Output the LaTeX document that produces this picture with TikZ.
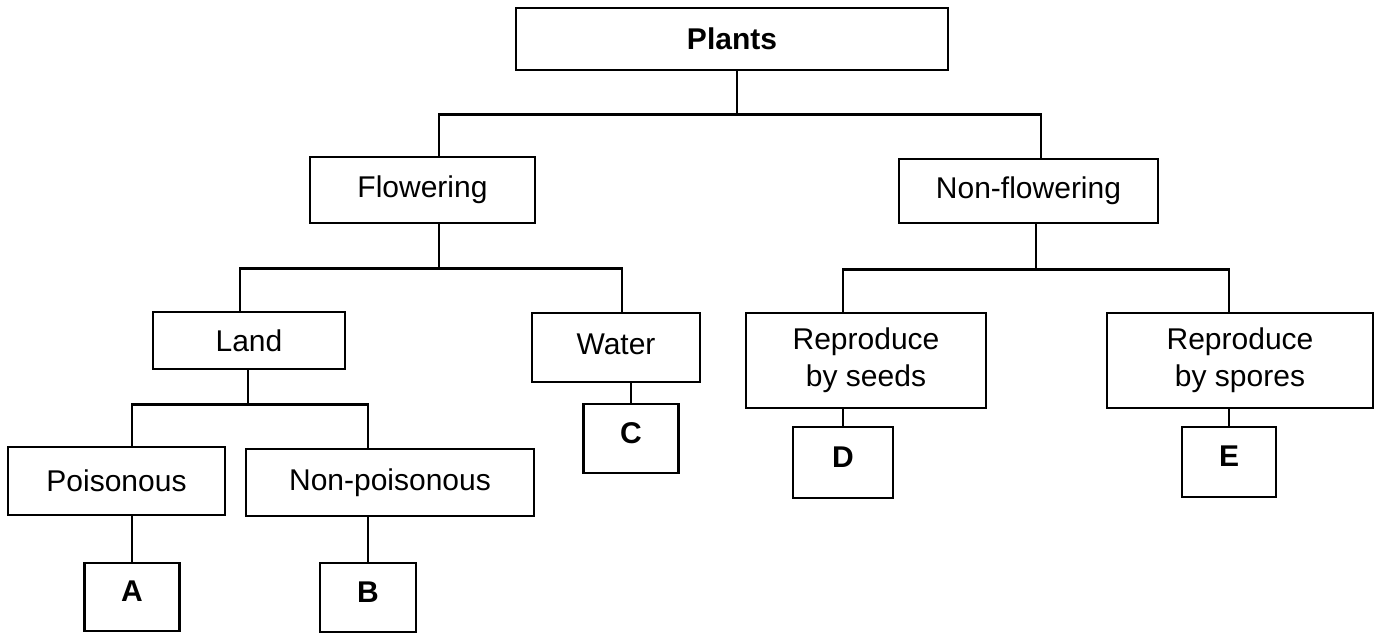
\documentclass[tikz,border=0pt]{standalone}
\usepackage{fontspec}
\setmainfont{Liberation Sans}
\usetikzlibrary{calc}
\tikzset{
  box/.style={draw=black, line width=1.4pt, rectangle, inner sep=0pt, align=center,
    font=\fontsize{15pt}{18.5pt}\selectfont},
  letterbox/.style={box, font=\fontsize{15pt}{18.5pt}\selectfont\bfseries,
    text height=10.7pt, text depth=6pt},
  conn/.style={draw=black, line width=1.4pt}
}
\begin{document}
\begin{tikzpicture}[x=0.5pt, y=-0.5pt]
\useasboundingbox[fill=white] (0,0) rectangle (1380,634);
% level 0
\node[box, minimum width=216pt, minimum height=31pt, font=\fontsize{15pt}{18.5pt}\selectfont\bfseries] (plants) at (732,39) {Plants};
% level 1
\node[box, minimum width=112.5pt, minimum height=33pt] (flow) at (422.5,190) {Flowering};
\node[box, minimum width=129.5pt, minimum height=32pt] (nonflow) at (1028.5,191) {Non-flowering};
% level 2
\node[box, minimum width=96pt, minimum height=28.5pt] (land) at (249,340.5) {Land};
\node[box, minimum width=84pt, minimum height=34.5pt, text height=10.7pt, text depth=4pt] (water) at (616,347.5) {Water};
\node[box, minimum width=120pt, minimum height=47.5pt] (seeds) at (866,360.5) {Reproduce\\by seeds};
\node[box, minimum width=133pt, minimum height=47.5pt] (spores) at (1240,360.5) {Reproduce\\by spores};
% level 3
\node[box, minimum width=108.5pt, minimum height=34pt] (pois) at (116.5,481) {Poisonous};
\node[box, minimum width=144pt, minimum height=33.5pt] (nonpois) at (390,482.5) {Non-poisonous};
\node[letterbox, minimum width=47.5pt, minimum height=34.5pt] (C) at (631,438.5) {C};
\node[letterbox, minimum width=50pt, minimum height=35.5pt] (D) at (843,462.5) {D};
\node[letterbox, minimum width=47pt, minimum height=35pt] (E) at (1229,462) {E};
% level 4
\node[letterbox, minimum width=47.5pt, minimum height=34pt] (A) at (132,597) {A};
\node[letterbox, minimum width=48pt, minimum height=34.5pt] (B) at (368,597.5) {B};
% connectors
\draw[conn] ([xshift=2.5pt]plants.south) -- ++(0,43) -| ([xshift=8.25pt]flow.north);
\draw[conn] ([xshift=2.5pt]plants.south) ++(0,43) -| ([xshift=6.25pt]nonflow.north);
\draw[conn] ([xshift=8.25pt]flow.south) -- ++(0,44) -| ([xshift=-4.5pt]land.north);
\draw[conn] ([xshift=8.25pt]flow.south) ++(0,44) -| ([xshift=3pt]water.north);
\draw[conn] ([xshift=3.75pt]nonflow.south) -- ++(0,45) -| ([xshift=-11.5pt]seeds.north);
\draw[conn] ([xshift=3.75pt]nonflow.south) ++(0,45) -| ([xshift=-5.5pt]spores.north);
\draw[conn] ([xshift=-0.5pt]land.south) -- ++(0,34) -| ([xshift=7.75pt]pois.north);
\draw[conn] ([xshift=-0.5pt]land.south) ++(0,34) -| ([xshift=-11pt]nonpois.north);
\draw[conn] ([xshift=7.5pt]water.south) -- (C.north);
\draw[conn] ([xshift=-11.5pt]seeds.south) -- (D.north);
\draw[conn] ([xshift=-5.5pt]spores.south) -- (E.north);
\draw[conn] ([xshift=7.75pt]pois.south) -- (A.north);
\draw[conn] ([xshift=-11pt]nonpois.south) -- (B.north);
\end{tikzpicture}
\end{document}
